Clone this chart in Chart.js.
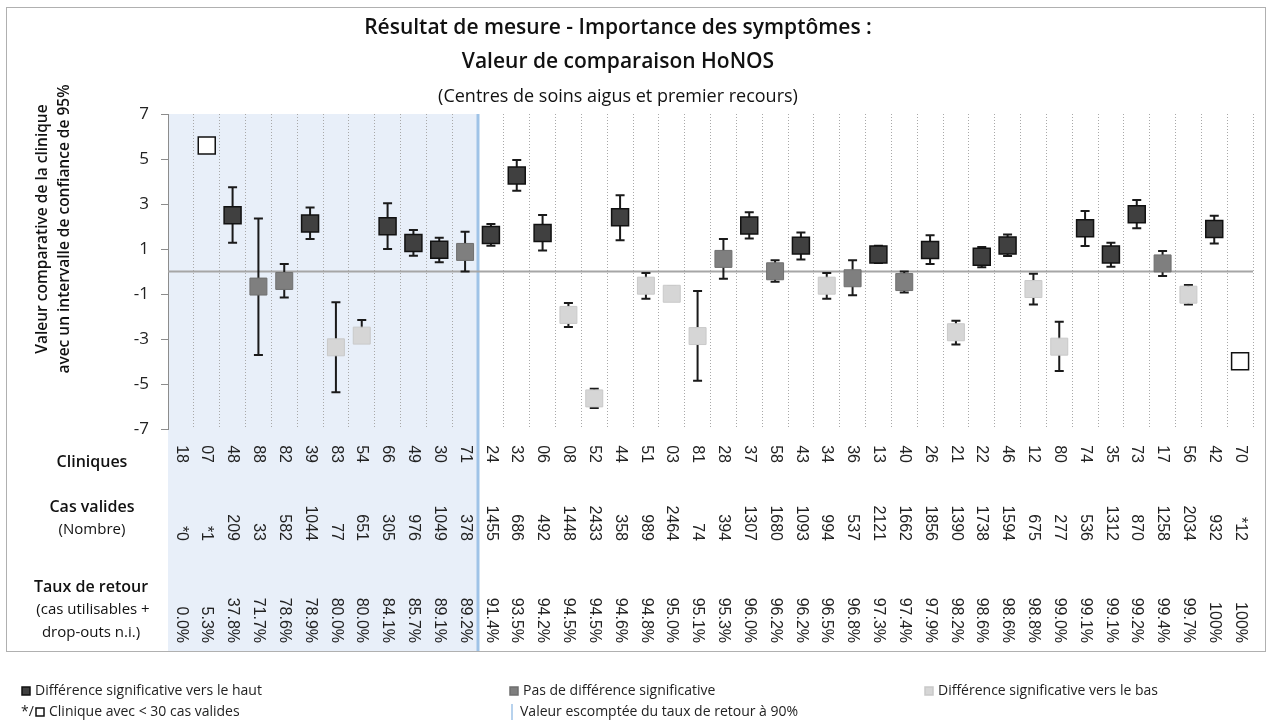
<!DOCTYPE html>
<html lang="fr">
<head>
<meta charset="utf-8">
<title>HoNOS - valeur de comparaison</title>
<script src="https://cdn.jsdelivr.net/npm/chart.js@4.4.1/dist/chart.umd.min.js"></script>
<style>
  html, body { margin: 0; padding: 0; background: #fff; }
  #wrap { width: 1268px; height: 724px; }
</style>
</head>
<body>
<div id="wrap"><canvas id="honosChart" width="1268" height="724"></canvas></div>
<script>
// cliniques, triées par taux de retour
const clinics = ['18', '07', '48', '88', '82', '39', '83', '54', '66', '49', '30', '71',
  '24', '32', '06', '08', '52', '44', '51', '03', '81', '28', '37', '58', '43', '34', '36',
  '13', '40', '26', '21', '22', '46', '12', '80', '74', '35', '73', '17', '56', '42', '70'];

// valeur comparative + intervalle de confiance 95%
const values = [null, 5.6, 2.5, -0.67, -0.42, 2.13, -3.37, -2.85, 2.01, 1.27, 0.97, 0.87,
  1.62, 4.27, 1.71, -1.93, -5.64, 2.41, -0.63, -0.99, -2.87, 0.56, 2.04, 0.01, 1.15, -0.63, -0.3,
  0.76, -0.47, 0.96, -2.7, 0.66, 1.16, -0.78, -3.34, 1.92, 0.76, 2.54, 0.36, -1.03, 1.89, -3.99];
const lower = [null, null, 1.28, -3.71, -1.16, 1.44, -5.37, -3.15, 1.0, 0.7, 0.41, 0.0,
  1.15, 3.59, 0.93, -2.47, -6.07, 1.39, -1.21, -1.3, -4.85, -0.32, 1.47, -0.45, 0.53, -1.21, -1.06,
  0.38, -0.93, 0.33, -3.24, 0.19, 0.69, -1.47, -4.42, 1.13, 0.21, 1.92, -0.2, -1.47, 1.25, null];
const upper = [null, null, 3.74, 2.36, 0.33, 2.84, -1.37, -2.16, 3.03, 1.84, 1.5, 1.77,
  2.11, 4.96, 2.51, -1.4, -5.21, 3.39, -0.07, -0.68, -0.87, 1.44, 2.63, 0.5, 1.73, -0.07, 0.5,
  1.15, 0.0, 1.61, -2.19, 1.09, 1.65, -0.1, -2.23, 2.69, 1.28, 3.18, 0.91, -0.6, 2.48, null];

// haut / nul / bas / petit (< 30 cas)
const signif = ['petit', 'petit', 'haut', 'nul', 'nul', 'haut', 'bas', 'bas', 'haut', 'haut', 'haut', 'nul',
  'haut', 'haut', 'haut', 'bas', 'bas', 'haut', 'bas', 'bas', 'bas', 'nul', 'haut', 'nul', 'haut', 'bas', 'nul',
  'haut', 'nul', 'haut', 'bas', 'haut', 'haut', 'bas', 'bas', 'haut', 'haut', 'haut', 'nul', 'bas', 'haut', 'petit'];

const cases = ['*0', '*1', '209', '33', '582', '1044', '77', '651', '305', '976', '1049', '378',
  '1455', '686', '492', '1448', '2433', '358', '989', '2464', '74', '394', '1307', '1680', '1093', '994', '537',
  '2121', '1662', '1856', '1390', '1738', '1594', '675', '277', '536', '1312', '870', '1258', '2034', '932', '*12'];

const rates = [0.0, 5.3, 37.8, 71.7, 78.6, 78.9, 80.0, 80.0, 84.1, 85.7, 89.1, 89.2,
  91.4, 93.5, 94.2, 94.5, 94.5, 94.6, 94.8, 95.0, 95.1, 95.3, 96.0, 96.2, 96.2, 96.5, 96.8,
  97.3, 97.4, 97.9, 98.2, 98.6, 98.6, 98.8, 99.0, 99.1, 99.1, 99.2, 99.4, 99.7, 100, 100];

const expectedRate = 90;
const yTicks = [-7, -5, -3, -1, 1, 3, 5, 7];

const fills = { haut: '#404040', nul: '#7f7f7f', bas: '#d6d6d6', petit: '#ffffff' };
const strokes = { haut: '#111111', nul: '#6f6f6f', bas: '#c9c9c9', petit: '#111111' };

const SANS = '"Open Sans", sans-serif';
const ARIAL = '"Liberation Sans", Arial, sans-serif';
const BOTTOM = 651;

function fmtRate(r) {
    return r === 100 ? '100%' : r.toFixed(1) + '%';
}

function splitX(xs) {
    const idx = rates.findIndex(r => r >= expectedRate);
    return (xs.getPixelForValue(idx - 1) + xs.getPixelForValue(idx)) / 2;
}

function vText(ctx, txt, x, yEnd) {
    // texte tourné de 90° (lecture de haut en bas), aligné en bas
    ctx.save();
    ctx.translate(x, yEnd);
    ctx.rotate(Math.PI / 2);
    ctx.textAlign = 'right';
    ctx.textBaseline = 'middle';
    ctx.fillText(txt, 0, 0);
    ctx.restore();
}

const decor = {
    id: 'decor',
    beforeDraw(chart) {
        const { ctx, chartArea, scales } = chart;
        const xs = splitX(scales.x);
        ctx.save();
        ctx.fillStyle = '#fff';
        ctx.fillRect(0, 0, chart.width, chart.height);
        ctx.fillStyle = '#e8eff9';
        ctx.fillRect(chartArea.left, chartArea.top, xs - chartArea.left, BOTTOM - chartArea.top);
        ctx.restore();
    },
    beforeDatasetsDraw(chart) {
        const { ctx, chartArea, scales: { x, y } } = chart;
        ctx.save();
        // ligne 90%
        const xs = splitX(x);
        ctx.strokeStyle = '#9fc3e7';
        ctx.lineWidth = 3;
        ctx.beginPath();
        ctx.moveTo(xs, chartArea.top);
        ctx.lineTo(xs, BOTTOM);
        ctx.stroke();
        // ligne zéro
        const y0 = y.getPixelForValue(0);
        ctx.strokeStyle = '#a6a6a6';
        ctx.lineWidth = 2;
        ctx.beginPath();
        ctx.moveTo(chartArea.left, y0);
        ctx.lineTo(chartArea.right, y0);
        ctx.stroke();
        // intervalles de confiance
        ctx.strokeStyle = '#1a1a1a';
        ctx.lineWidth = 2;
        for (let i = 0; i < clinics.length; i++) {
            if (lower[i] === null) continue;
            const px = x.getPixelForValue(i);
            const yl = y.getPixelForValue(lower[i]);
            const yu = y.getPixelForValue(upper[i]);
            ctx.beginPath();
            ctx.moveTo(px, yl);
            ctx.lineTo(px, yu);
            ctx.moveTo(px - 4.5, yl);
            ctx.lineTo(px + 4.5, yl);
            ctx.moveTo(px - 4.5, yu);
            ctx.lineTo(px + 4.5, yu);
            ctx.stroke();
        }
        ctx.restore();
    },
    afterDraw(chart) {
        const { ctx, scales: { x } } = chart;
        ctx.save();
        ctx.fillStyle = '#111';

        // titres
        ctx.textAlign = 'center';
        ctx.textBaseline = 'middle';
        ctx.font = '600 21px ' + SANS;
        ctx.fillText('Résultat de mesure - Importance des symptômes :', 618, 28);
        ctx.fillText('Valeur de comparaison HoNOS', 618, 62);
        ctx.font = '18px ' + SANS;
        ctx.fillText('(Centres de soins aigus et premier recours)', 618, 97);

        // titre de l'axe y
        ctx.save();
        ctx.translate(43, 229);
        ctx.rotate(-Math.PI / 2);
        ctx.font = '600 15.5px ' + SANS;
        ctx.fillText('Valeur comparative de la clinique', 0, 0);
        ctx.fillText('avec un intervalle de confiance de 95%', 0, 22);
        ctx.restore();

        // tableau sous le graphique
        ctx.font = '600 16px ' + SANS;
        ctx.fillText('Cliniques', 92, 462);
        ctx.fillText('Cas valides', 92, 507);
        ctx.fillText('Taux de retour', 91, 587);
        ctx.font = '15px ' + SANS;
        ctx.fillText('(Nombre)', 92, 530);
        ctx.fillText('(cas utilisables +', 93, 610);
        ctx.fillText('drop-outs n.i.)', 91, 633);

        ctx.font = '16px ' + ARIAL;
        ctx.fillStyle = '#222';
        clinics.forEach((c, i) => {
            const px = x.getPixelForValue(i);
            vText(ctx, c, px, 463);
            vText(ctx, cases[i], px, 541);
            vText(ctx, fmtRate(rates[i]), px, 643);
        });

        // cadre
        ctx.strokeStyle = '#b0b0b0';
        ctx.lineWidth = 1;
        ctx.strokeRect(6.5, 7.5, 1259, BOTTOM - 7);

        // légende
        const legY1 = 691, legY2 = 712;
        ctx.font = '14px ' + SANS;
        ctx.textAlign = 'left';
        ctx.fillStyle = '#222';
        const box = (bx, by, key) => {
            ctx.fillStyle = fills[key];
            ctx.fillRect(bx, by - 4, 8, 8);
            ctx.strokeStyle = strokes[key];
            ctx.lineWidth = 1.5;
            ctx.strokeRect(bx, by - 4, 8, 8);
            ctx.fillStyle = '#222';
        };
        box(22, legY1, 'haut');
        ctx.fillText('Différence significative vers le haut', 35, legY1);
        box(510, legY1, 'nul');
        ctx.fillText('Pas de différence significative', 523, legY1);
        box(925, legY1, 'bas');
        ctx.fillText('Différence significative vers le bas', 938, legY1);
        ctx.fillText('*/', 21, legY2);
        box(36, legY2, 'petit');
        ctx.fillText('Clinique avec < 30 cas valides', 49, legY2);
        ctx.strokeStyle = '#9fc3e7';
        ctx.lineWidth = 1.5;
        ctx.beginPath();
        ctx.moveTo(512, legY2 - 8);
        ctx.lineTo(512, legY2 + 8);
        ctx.stroke();
        ctx.fillText('Valeur escomptée du taux de retour à 90%', 520, legY2);
        ctx.restore();
    }
};

const chart = new Chart(document.getElementById('honosChart'), {
    type: 'line',
    data: {
        labels: clinics,
        datasets: [{
            data: values,
            showLine: false,
            pointStyle: 'rect',
            pointRadius: 12,
            pointHoverRadius: 12,
            pointBackgroundColor: signif.map(s => fills[s]),
            pointBorderColor: signif.map(s => strokes[s]),
            pointBorderWidth: signif.map(s => (s === 'haut' || s === 'petit') ? 1.5 : 1)
        }]
    },
    options: {
        responsive: false,
        animation: false,
        devicePixelRatio: 1,
        layout: { padding: { top: 114, left: 0, right: 15, bottom: 295 } },
        plugins: {
            legend: { display: false },
            tooltip: { enabled: false },
            title: { display: false }
        },
        scales: {
            x: {
                type: 'category',
                offset: true,
                grid: { offset: true, drawTicks: false, color: '#a8a8a8', lineWidth: 1 },
                border: { display: false, dash: [1, 2] },
                ticks: { display: false },
                afterFit(scale) { scale.height = 0; }
            },
            y: {
                min: -7,
                max: 7,
                afterBuildTicks(scale) { scale.ticks = yTicks.map(v => ({ value: v })); },
                grid: { drawOnChartArea: false, drawTicks: true, tickLength: 7, color: '#8c8c8c' },
                border: { display: true, color: '#8c8c8c' },
                ticks: { padding: 12, color: '#222', font: { family: SANS, size: 17 } },
                afterFit(scale) { scale.width = 168; }
            }
        }
    },
    plugins: [decor]
});
</script>
</body>
</html>
